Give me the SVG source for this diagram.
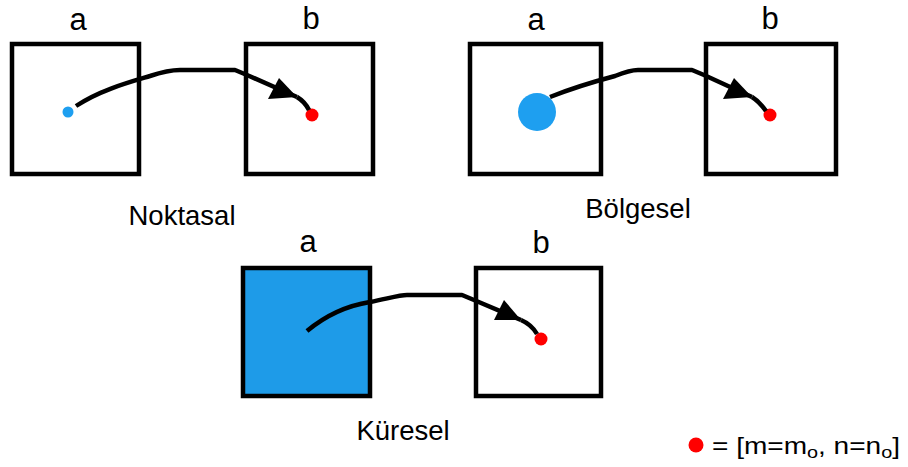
<svg xmlns="http://www.w3.org/2000/svg" width="908" height="467" viewBox="0 0 908 467">
<style>
.box{fill:#fff;stroke:#000;stroke-width:4.5}
.lbl{font-family:"Liberation Sans",Arial,sans-serif;font-size:31px;fill:#000;text-anchor:middle}
.cap{font-family:"Liberation Sans",Arial,sans-serif;font-size:27.5px;fill:#000;text-anchor:middle}
.leg{font-family:"Liberation Sans",Arial,sans-serif;font-size:24px;fill:#000}
.conn{fill:none;stroke:#000;stroke-width:4.5;stroke-linejoin:round}
.red{fill:#f00}
.blue{fill:#1e9ff0}
</style>
<rect width="908" height="467" fill="#fff"/>

<g id="p1a"><rect class="box" x="12" y="44" width="127" height="130"/><text class="lbl" x="78" y="30">a</text><circle class="blue" cx="68" cy="112" r="5.5"/></g>
<g id="p1b"><rect class="box" x="246" y="44" width="127" height="130"/><text class="lbl" x="311" y="29">b</text><circle class="red" cx="312" cy="115" r="6.5"/></g>
<text class="cap" x="182" y="225">Noktasal</text>

<g id="p2a"><rect class="box" x="470" y="44" width="131" height="130"/><text class="lbl" x="536" y="30">a</text><circle class="blue" cx="537" cy="112" r="19"/></g>
<g id="p2b"><rect class="box" x="706" y="44" width="130" height="130"/><text class="lbl" x="770" y="29">b</text><circle class="red" cx="770" cy="115" r="6.5"/></g>
<text class="cap" x="638" y="218">Bölgesel</text>

<g id="p3a"><rect x="243" y="268" width="127" height="128" fill="#1e9be8" stroke="#000" stroke-width="4.5"/><text class="lbl" x="308" y="252">a</text></g>
<g id="p3b"><rect class="box" x="476" y="268" width="125" height="128"/><text class="lbl" x="541" y="253">b</text><circle class="red" cx="541" cy="339" r="6.5"/></g>
<text class="cap" x="403" y="440">Küresel</text>

<g id="legend"><circle class="red" cx="696" cy="445" r="7.5"/>
<text class="leg" x="712" y="454" textLength="188" lengthAdjust="spacingAndGlyphs">= [m=m<tspan font-size="17" dy="4">o</tspan><tspan dy="-4">, n=n</tspan><tspan font-size="17" dy="4">o</tspan><tspan dy="-4">]</tspan></text></g>

<g id="connectors">
<path class="conn" d="M76,106 C100,90 130,82 150,76 C165,71 172,70 180,70 L235,70 L247,75 L297,97"/>
<path d="M297,97 L268,99 L279,78 Z" fill="#000"/>
<path class="conn" d="M297,97 C302,100 306,104 309,110"/>

<path class="conn" d="M550,97 C575,87 600,80 615,76 C625,72 632,70 638,70 L692,70 L704,75 L752,97"/>
<path d="M752,97 L723,99 L734,78 Z" fill="#000"/>
<path class="conn" d="M752,97 C757,100 761,104 766,111"/>

<path class="conn" d="M307,331 C325,316 345,306 370,302 C390,298 400,295 407,295 L462,295 L474,300 L521,320"/>
<path d="M521,320 L494,320 L504,300 Z" fill="#000"/>
<path class="conn" d="M521,320 C528,323 533,327 537,334"/>
</g>
</svg>
